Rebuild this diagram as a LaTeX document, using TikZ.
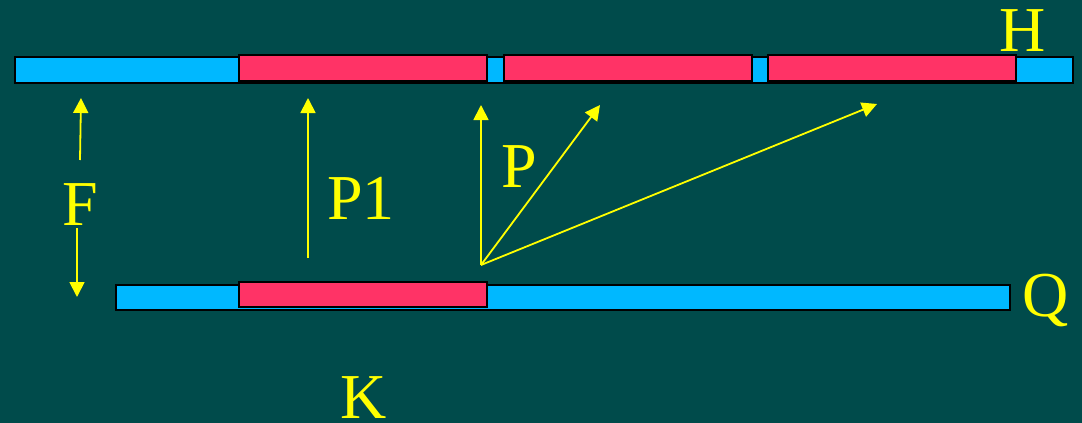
\documentclass[tikz,border=0pt]{standalone}
\usepackage{fontspec}
\setmainfont{Liberation Serif}
\usetikzlibrary{arrows.meta}
\definecolor{bgc}{RGB}{0,75,75}
\definecolor{barblue}{RGB}{0,184,255}
\definecolor{barred}{RGB}{255,51,102}
\definecolor{lbl}{RGB}{255,255,0}
\tikzset{
  bluebar/.style={draw=black, fill=barblue, line width=2pt},
  redbox/.style={draw=black, fill=barred, line width=2pt},
  vec/.style={draw=lbl, line width=1.8pt, -{Triangle[width=15pt,length=15pt]}},
  lab/.style={text=lbl, font=\fontsize{64}{70}\selectfont, inner sep=0pt, anchor=base}
}
\begin{document}
\begin{tikzpicture}[x=1pt,y=-1pt]
\useasboundingbox[fill=bgc] (0,0) rectangle (1082,423);
% top bar H
\draw[bluebar] (15,57) rectangle (1073,83);
\draw[redbox] (239,55) rectangle (487,81);
\draw[redbox] (504,55) rectangle (752,81);
\draw[redbox] (768,55) rectangle (1016,81);
% bottom bar Q
\draw[bluebar] (116,285) rectangle (1010,310);
\draw[redbox] (239,282) rectangle (487,307);
% labels
\node[lab] (H) at (1023,51) {H};
\node[lab] (Q) at (1046,316) {Q};
\node[lab] (K) at (364,418) {K};
\node[lab] (F) at (80,225) {F};
\node[lab] (P1) at (361,219) {P1};
\node[lab] (P) at (519,187) {P};
% coordinates
\coordinate (fa) at (80,160);
\coordinate (fb) at (81,98);
\coordinate (fc) at (77,228);
\coordinate (fd) at (77,297);
\coordinate (pa) at (308,258);
\coordinate (pb) at (308,98);
\coordinate (o) at (481,265);
\coordinate (t1) at (481,105);
\coordinate (t2) at (600,105);
\coordinate (t3) at (877,104);
% arrows
\draw[vec] (fa) -- (fb);
\draw[vec] (fc) -- (fd);
\draw[vec] (pa) -- (pb);
\draw[vec] (o) -- (t1);
\draw[vec] (o) -- (t2);
\draw[vec] (o) -- (t3);
\end{tikzpicture}
\end{document}
